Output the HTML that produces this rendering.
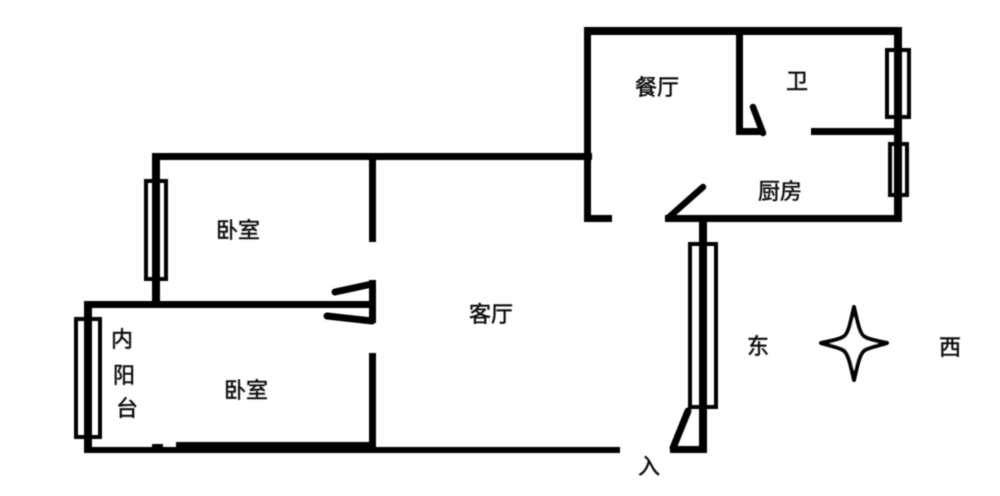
<!DOCTYPE html>
<html><head><meta charset="utf-8"><style>
html,body{margin:0;padding:0;background:#fff;width:1000px;height:496px;overflow:hidden}
svg{display:block}
text{font-family:"Liberation Sans","Noto Sans CJK SC",sans-serif;font-size:22px;fill:#111;stroke:#111;stroke-width:.5px;text-anchor:middle}
</style></head><body>
<svg width="1000" height="496" viewBox="0 0 1000 496" xmlns="http://www.w3.org/2000/svg">
<defs><filter id="b" filterUnits="userSpaceOnUse" x="0" y="0" width="1000" height="496"><feGaussianBlur stdDeviation="0.45"/></filter></defs>
<rect width="1000" height="496" fill="#fff"/>
<g filter="url(#b)">
<g fill="#000">
<rect x="584" y="27" width="318" height="8"/>
<rect x="584" y="27" width="7" height="195"/>
<rect x="894" y="27" width="8" height="195"/>
<rect x="584" y="215" width="28" height="7"/>
<rect x="665" y="215" width="237" height="7"/>
<rect x="736" y="30" width="7" height="105"/>
<rect x="736" y="128" width="27" height="7"/>
<rect x="811" y="128" width="84" height="7"/>
<rect x="152" y="153" width="440" height="7"/>
<rect x="152" y="153" width="8" height="155"/>
<rect x="369" y="156" width="7" height="86"/>
<rect x="369" y="280" width="7" height="43"/>
<rect x="369" y="353" width="7" height="100"/>
<rect x="84" y="301" width="285" height="7"/>
<rect x="84" y="301" width="8" height="152"/>
<rect x="84" y="447" width="536" height="6"/>
<rect x="176" y="442" width="197" height="6"/>
<rect x="152" y="444" width="11" height="4"/>
<rect x="699" y="218" width="8" height="235"/>
<rect x="670" y="446" width="37" height="7"/>
</g>
<g stroke="#000" stroke-linecap="round" fill="none">
<line x1="763" y1="133" x2="753" y2="107" stroke-width="6.5"/>
<line x1="668" y1="218" x2="703" y2="187" stroke-width="6.5"/>
<line x1="688" y1="411" x2="673" y2="448" stroke-width="7"/>
<line x1="335" y1="292" x2="372" y2="284" stroke-width="7"/>
<line x1="327" y1="316" x2="372" y2="321" stroke-width="7"/>
</g>
<g fill="none" stroke="#000" stroke-width="4">
<rect x="146" y="181" width="20" height="98"/>
<rect x="76" y="319" width="24" height="118"/>
<rect x="690" y="244" width="26" height="163"/>
<rect x="887" y="50" width="22" height="67"/>
<rect x="890" y="144" width="17" height="51"/>
</g>
<path d="M854 307 C858 325 860 335 865 337 C870 340 878 341 887 343 C878 346 870 347 865 350 C860 353 858 362 854 380 C850 362 848 353 843 350 C838 347 830 346 821 343 C830 341 838 340 843 337 C848 335 850 325 854 307 Z" fill="#fff" stroke="#000" stroke-width="4" stroke-linejoin="round"/>
<text x="657" y="95">餐厅</text>
<text x="797" y="89">卫</text>
<text x="780" y="199">厨房</text>
<text x="238" y="238">卧室</text>
<text x="246" y="398">卧室</text>
<text x="491" y="322">客厅</text>
<text x="122" y="347">内</text>
<text x="124" y="383">阳</text>
<text x="127" y="416">台</text>
<text x="758" y="354">东</text>
<text x="950" y="355">西</text>
<text x="649" y="474">入</text>
</g>
</svg>
</body></html>
